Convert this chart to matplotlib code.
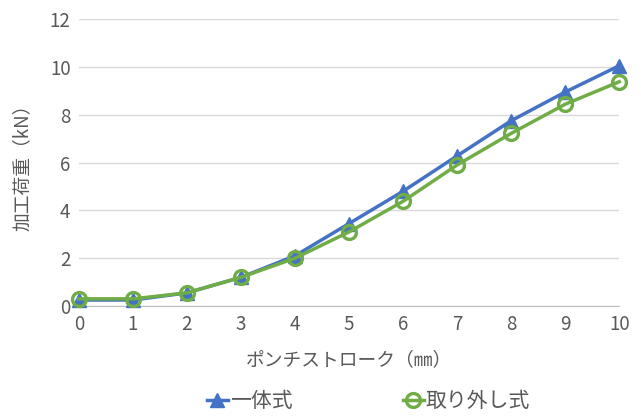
import matplotlib.pyplot as plt

plt.rcParams['font.family'] = ['Noto Sans CJK JP', 'DejaVu Sans']

# パンチストロークと加工荷重
stroke = [0, 1, 2, 3, 4, 5, 6, 7, 8, 9, 10]
load_integral = [0.25, 0.25, 0.55, 1.2, 2.1, 3.45, 4.8, 6.28, 7.75, 8.95, 10.05]
load_detachable = [0.3, 0.3, 0.55, 1.2, 2.0, 3.1, 4.38, 5.9, 7.22, 8.44, 9.38]

blue = '#4472C4'
green = '#70AD47'
gray = '#595959'

fig = plt.figure(figsize=(6.41, 4.16), dpi=100)
ax = fig.add_axes([0.123, 0.2644, 0.843, 0.6896])

ax.plot(stroke, load_integral, color=blue, linewidth=2.5, marker='^',
        markersize=10, markerfacecolor=blue, markeredgecolor=blue, label='一体式', zorder=3)
ax.plot(stroke, load_detachable, color=green, linewidth=2.5, marker='o',
        markersize=10, markerfacecolor='none', markeredgecolor=green,
        markeredgewidth=2.4, label='取り外し式', zorder=4)

ax.set_xlim(0, 10)
ax.set_ylim(0, 12)
ax.set_xticks(stroke)
ax.set_yticks(range(0, 13, 2))
ax.tick_params(length=0, labelsize=13.5, colors=gray, pad=6)
ax.grid(True, axis='y', color='#D9D9D9', linewidth=1)
ax.set_axisbelow(True)
for s in ['top', 'right', 'left']:
    ax.spines[s].set_visible(False)
ax.spines['bottom'].set_color('#BFBFBF')
for line in ax.get_lines():
    line.set_clip_on(False)

ax.set_xlabel('ポンチストローク（㎜）', fontsize=13.5, color=gray, labelpad=10)
ax.set_ylabel('加工荷重（kN）', fontsize=13.5, color=gray, labelpad=12)

fig.legend(loc='lower center', bbox_to_anchor=(0.575, -0.035), ncol=2, frameon=False,
           fontsize=15, labelcolor=gray, handlelength=1.0, handletextpad=0.1,
           columnspacing=5.3)

fig.savefig('out.png', dpi=100)
